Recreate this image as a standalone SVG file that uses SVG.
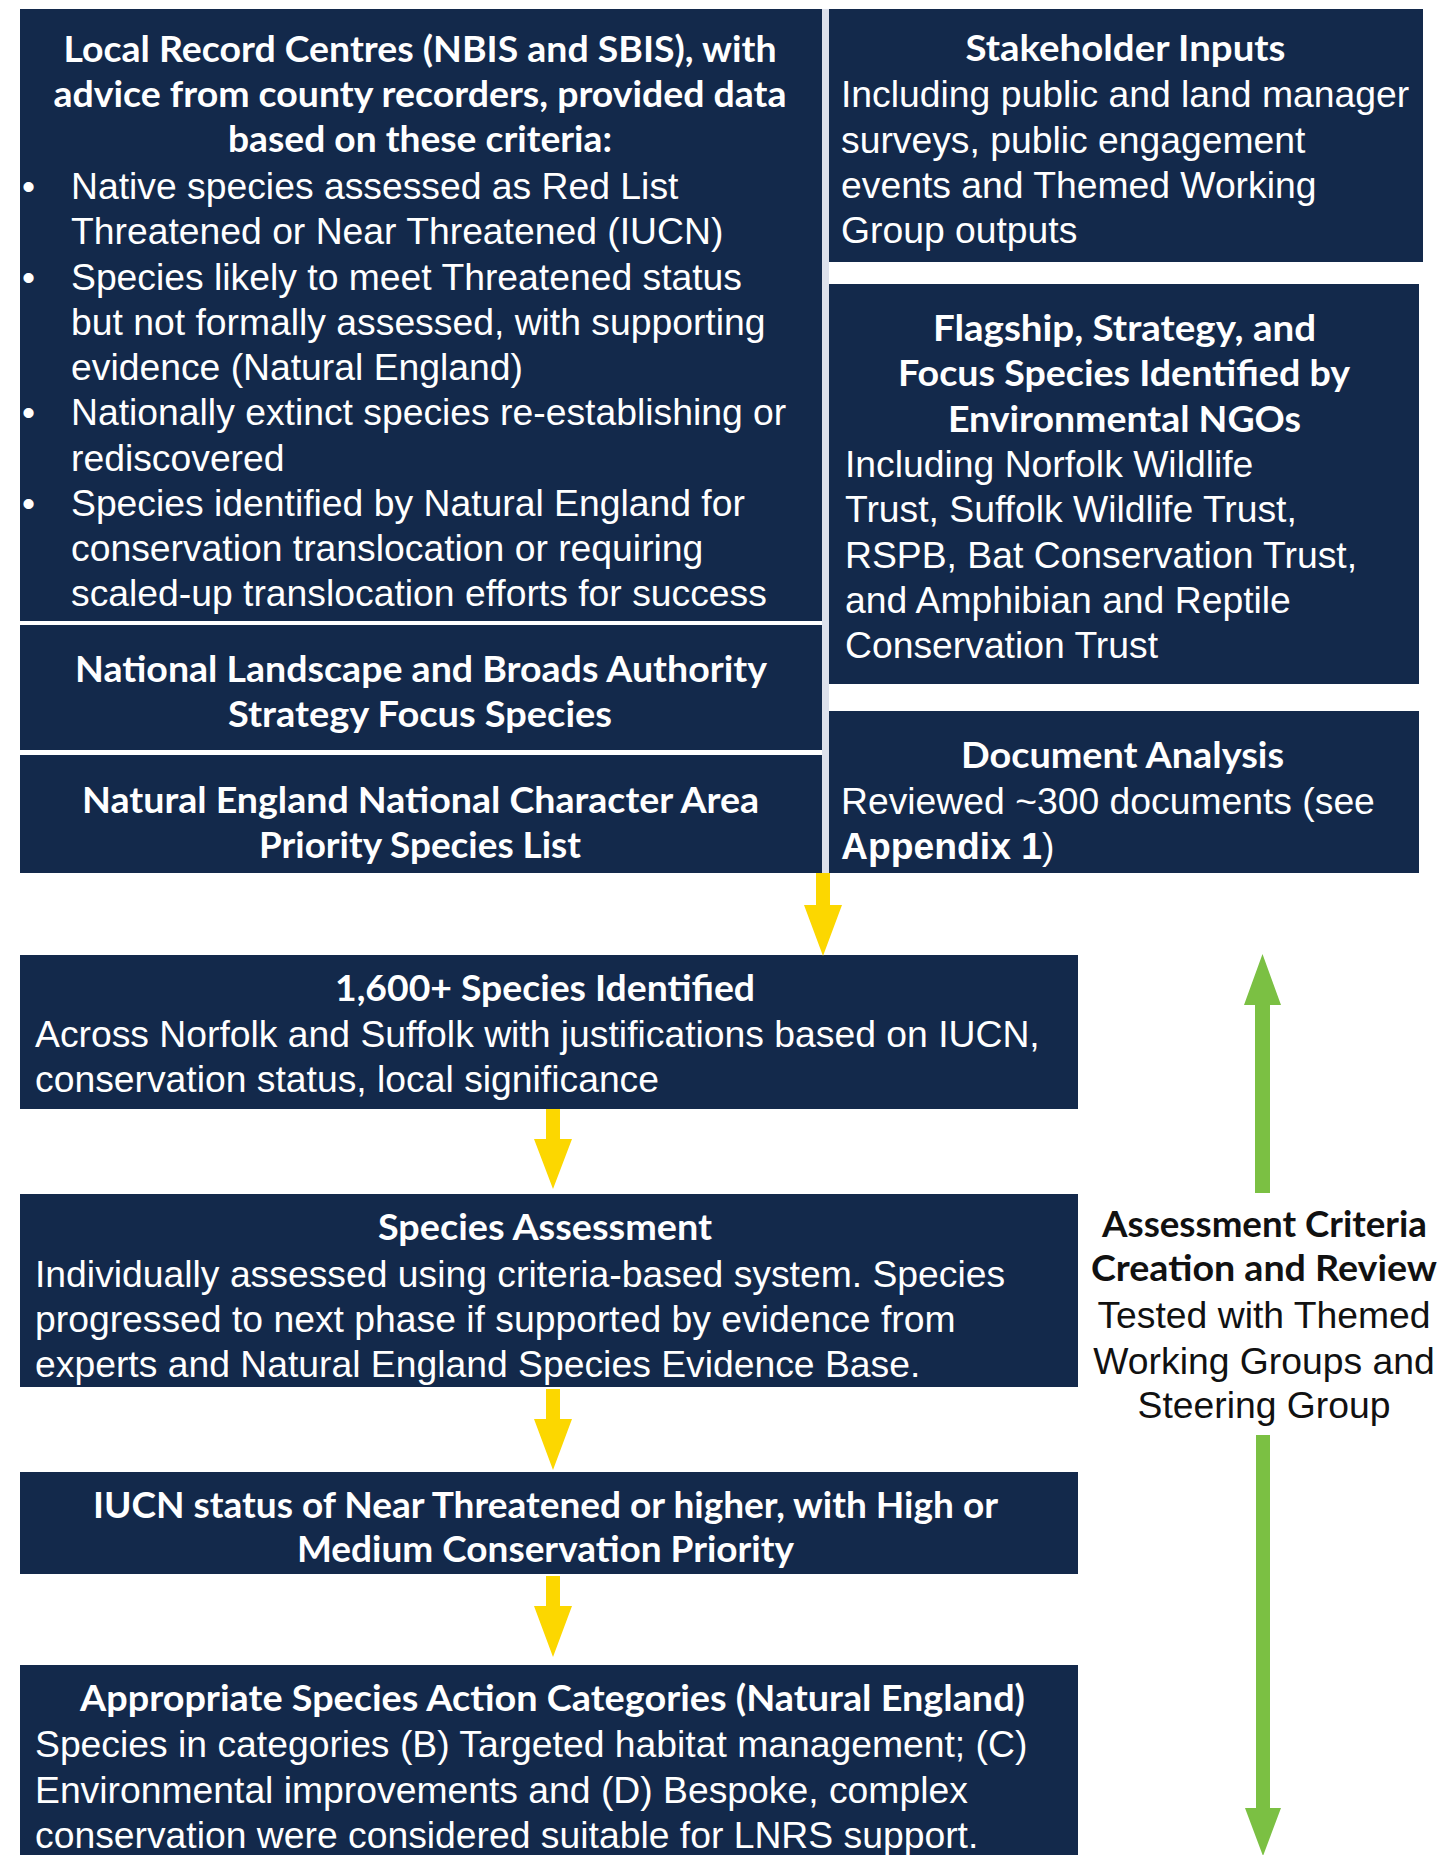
<svg xmlns="http://www.w3.org/2000/svg" width="1445" height="1855" viewBox="0 0 1445 1855">
  <style>
    .box { fill: #13294b; }
    .h { font-family: Lato, "Open Sans", sans-serif; font-weight: 700; font-size: 37px; fill: #ffffff; text-anchor: middle; }
    .t { font-family: "Liberation Sans", Arial, sans-serif; font-size: 37.3px; fill: #ffffff; }
    .hk { font-family: Lato, "Open Sans", sans-serif; font-weight: 700; font-size: 37px; fill: #111111; text-anchor: middle; }
    .tk { font-family: "Liberation Sans", Arial, sans-serif; font-size: 37.3px; fill: #111111; text-anchor: middle; }
    .yel { fill: #fcd700; }
    .grn { fill: #7bc043; }
  </style>

  <rect width="1445" height="1855" fill="#ffffff"/>
  <!-- pale divider between the two source columns -->
  <rect x="822" y="9" width="7" height="864" fill="#dde1ec"/>

  <g id="local-record-centres">
    <rect class="box" x="20" y="9" width="802" height="612"/>
    <text class="h" x="420" y="62" textLength="713" lengthAdjust="spacingAndGlyphs">Local Record Centres (NBIS and SBIS), with</text>
    <text class="h" x="420" y="107" textLength="733" lengthAdjust="spacingAndGlyphs">advice from county recorders, provided data</text>
    <text class="h" x="420" y="152" textLength="384" lengthAdjust="spacingAndGlyphs">based on these criteria:</text>
    <g class="t">
      <text x="22" y="199">•</text>
      <text x="71" y="199">Native species assessed as Red List</text>
      <text x="71" y="244">Threatened or Near Threatened (IUCN)</text>
      <text x="22" y="290">•</text>
      <text x="71" y="290">Species likely to meet Threatened status</text>
      <text x="71" y="335">but not formally assessed, with supporting</text>
      <text x="71" y="380">evidence (Natural England)</text>
      <text x="22" y="425">•</text>
      <text x="71" y="425">Nationally extinct species re-establishing or</text>
      <text x="71" y="471">rediscovered</text>
      <text x="22" y="516">•</text>
      <text x="71" y="516">Species identified by Natural England for</text>
      <text x="71" y="561">conservation translocation or requiring</text>
      <text x="71" y="606">scaled-up translocation efforts for success</text>
    </g>
  </g>

  <g id="national-landscape">
    <rect class="box" x="20" y="625" width="802" height="125"/>
    <text class="h" x="421" y="682" textLength="692" lengthAdjust="spacingAndGlyphs">National Landscape and Broads Authority</text>
    <text class="h" x="420" y="727" textLength="384" lengthAdjust="spacingAndGlyphs">Strategy Focus Species</text>
  </g>

  <g id="natural-england-nca">
    <rect class="box" x="20" y="755" width="802" height="118"/>
    <text class="h" x="420.5" y="813" textLength="677" lengthAdjust="spacingAndGlyphs">Natural England National Character Area</text>
    <text class="h" x="420" y="858" textLength="322" lengthAdjust="spacingAndGlyphs">Priority Species List</text>
  </g>

  <g id="stakeholder-inputs">
    <rect class="box" x="829" y="9" width="594" height="253"/>
    <text class="h" x="1125.5" y="61" textLength="320" lengthAdjust="spacingAndGlyphs">Stakeholder Inputs</text>
    <g class="t">
      <text x="841" y="107">Including public and land manager</text>
      <text x="841" y="153">surveys, public engagement</text>
      <text x="841" y="198">events and Themed Working</text>
      <text x="841" y="243">Group outputs</text>
    </g>
  </g>

  <g id="ngo-species">
    <rect class="box" x="829" y="284" width="590" height="400"/>
    <text class="h" x="1124.5" y="341" textLength="383" lengthAdjust="spacingAndGlyphs">Flagship, Strategy, and</text>
    <text class="h" x="1124" y="386" textLength="452" lengthAdjust="spacingAndGlyphs">Focus Species Identified by</text>
    <text class="h" x="1124.5" y="432" textLength="353" lengthAdjust="spacingAndGlyphs">Environmental NGOs</text>
    <g class="t">
      <text x="845" y="477">Including Norfolk Wildlife</text>
      <text x="845" y="522">Trust, Suffolk Wildlife Trust,</text>
      <text x="845" y="568">RSPB, Bat Conservation Trust,</text>
      <text x="845" y="613">and Amphibian and Reptile</text>
      <text x="845" y="658">Conservation Trust</text>
    </g>
  </g>

  <g id="document-analysis">
    <rect class="box" x="829" y="711" width="590" height="162"/>
    <text class="h" x="1122.5" y="768" textLength="323" lengthAdjust="spacingAndGlyphs">Document Analysis</text>
    <text class="t" x="841" y="814">Reviewed ~300 documents (see</text>
    <text class="t" x="841" y="859"><tspan font-weight="700">Appendix 1</tspan>)</text>
  </g>

  <g id="species-identified">
    <rect class="box" x="20" y="955" width="1058" height="154"/>
    <text class="h" x="545" y="1001" textLength="420" lengthAdjust="spacingAndGlyphs">1,600+ Species Identified</text>
    <text class="t" x="35" y="1047">Across Norfolk and Suffolk with justifications based on IUCN,</text>
    <text class="t" x="35" y="1092">conservation status, local significance</text>
  </g>

  <g id="species-assessment">
    <rect class="box" x="20" y="1194" width="1058" height="193"/>
    <text class="h" x="545" y="1240" textLength="334" lengthAdjust="spacingAndGlyphs">Species Assessment</text>
    <text class="t" x="35" y="1287">Individually assessed using criteria-based system. Species</text>
    <text class="t" x="35" y="1332">progressed to next phase if supported by evidence from</text>
    <text class="t" x="35" y="1377">experts and Natural England Species Evidence Base.</text>
  </g>

  <g id="iucn-status">
    <rect class="box" x="20" y="1472" width="1058" height="102"/>
    <text class="h" x="545.5" y="1518" textLength="905" lengthAdjust="spacingAndGlyphs">IUCN status of Near Threatened or higher, with High or</text>
    <text class="h" x="545.5" y="1562" textLength="497" lengthAdjust="spacingAndGlyphs">Medium Conservation Priority</text>
  </g>

  <g id="action-categories">
    <rect class="box" x="20" y="1665" width="1058" height="195"/>
    <text class="h" x="552.5" y="1711" textLength="945" lengthAdjust="spacingAndGlyphs">Appropriate Species Action Categories (Natural England)</text>
    <text class="t" x="35" y="1757">Species in categories (B) Targeted habitat management; (C)</text>
    <text class="t" x="35" y="1803">Environmental improvements and (D) Bespoke, complex</text>
    <text class="t" x="35" y="1848">conservation were considered suitable for LNRS support.</text>
  </g>

  <g id="criteria-review">
    <text class="hk" x="1264.5" y="1237" textLength="325" lengthAdjust="spacingAndGlyphs">Assessment Criteria</text>
    <text class="hk" x="1264" y="1281" textLength="346" lengthAdjust="spacingAndGlyphs">Creation and Review</text>
    <text class="tk" x="1264" y="1328">Tested with Themed</text>
    <text class="tk" x="1264" y="1374">Working Groups and</text>
    <text class="tk" x="1264" y="1418">Steering Group</text>
  </g>

  <g id="connectors">
    <!-- downward flow (yellow) -->
    <polygon class="yel" points="816,873 830,873 830,905 842,905 823,956 804,905 816,905"/>
    <polygon class="yel" points="546,1109 560,1109 560,1139 572,1139 553,1189 534,1139 546,1139"/>
    <polygon class="yel" points="546,1389 560,1389 560,1419 572,1419 553,1470 534,1419 546,1419"/>
    <polygon class="yel" points="546,1576 560,1576 560,1606 572,1606 553,1657 534,1606 546,1606"/>
    <!-- review loop (green) -->
    <polygon class="grn" points="1255,1193 1270,1193 1270,1005 1281,1005 1262.5,954 1244,1005 1255,1005"/>
    <polygon class="grn" points="1256,1435 1270,1435 1270,1808 1281,1808 1263,1856 1245,1808 1256,1808"/>
  </g>
</svg>
